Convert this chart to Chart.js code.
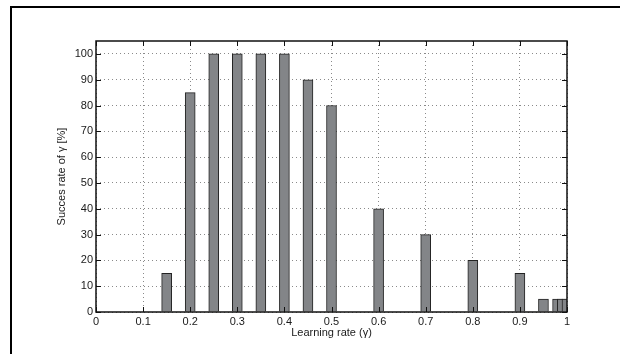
<!DOCTYPE html>
<html lang="en">
  <head>
    <meta charset="UTF-8" />
    <title>Succes rate vs learning rate</title>
    <script src="https://cdn.jsdelivr.net/npm/chart.js@4.4.1/dist/chart.umd.min.js"></script>
    <style>
      body { margin: 0; background: #fff; }
      .wrap { position: relative; width: 620px; height: 354px; overflow: hidden; }
      .frame {
        position: absolute; left: 10px; top: 6px; width: 700px; height: 400px;
        border-left: 2px solid #000; border-top: 2px solid #000; pointer-events: none;
      }
      canvas { position: absolute; left: 0; top: 0; }
    </style>
  </head>
  <body>
    <div class="wrap">
      <canvas id="rateChart" width="620" height="354"></canvas>
      <div class="frame"></div>
    </div>
    <script>
      // learning rate values (x) and success rate in percent (y)
      const learningRates = [0.15, 0.2, 0.25, 0.3, 0.35, 0.4, 0.45, 0.5, 0.6, 0.7, 0.8, 0.9, 0.95, 0.98, 0.99, 1.0];
      const successRates = [15, 85, 100, 100, 100, 100, 90, 80, 40, 30, 20, 15, 5, 5, 5, 5];

      const xTicks = [0, 0.1, 0.2, 0.3, 0.4, 0.5, 0.6, 0.7, 0.8, 0.9, 1];
      const xTickLabels = ["0", "0.1", "0.2", "0.3", "0.4", "0.5", "0.6", "0.7", "0.8", "0.9", "1"];
      const yTicks = [0, 10, 20, 30, 40, 50, 60, 70, 80, 90, 100];

      const font = { family: "'Liberation Sans', Arial, sans-serif", size: 11 };

      // box round the plot area plus inward tick marks on all four sides
      const boxPlugin = {
        id: "box",
        afterDatasetsDraw(chart) {
          const { ctx, chartArea: a, scales: { x, y } } = chart;
          ctx.save();
          ctx.strokeStyle = "#111";
          ctx.lineWidth = 1.5;
          ctx.strokeRect(a.left, a.top, a.right - a.left, a.bottom - a.top);
          ctx.lineWidth = 1;
          ctx.beginPath();
          x.ticks.forEach(t => {
            const px = Math.round(x.getPixelForValue(t.value)) + 0.5;
            ctx.moveTo(px, a.bottom); ctx.lineTo(px, a.bottom - 5);
            ctx.moveTo(px, a.top); ctx.lineTo(px, a.top + 5);
          });
          y.ticks.forEach(t => {
            const py = Math.round(y.getPixelForValue(t.value)) + 0.5;
            ctx.moveTo(a.left, py); ctx.lineTo(a.left + 5, py);
            ctx.moveTo(a.right, py); ctx.lineTo(a.right - 5, py);
          });
          ctx.stroke();
          ctx.restore();
        }
      };

      new Chart(document.getElementById("rateChart").getContext("2d"), {
        type: "bar",
        data: {
          datasets: [{
            data: learningRates.map((r, i) => ({ x: r, y: successRates[i] })),
            backgroundColor: "#838588",
            borderColor: "#222",
            borderWidth: 1,
            borderSkipped: "start",
            barThickness: 10
          }]
        },
        options: {
          responsive: false,
          devicePixelRatio: 1,
          animation: false,
          layout: { padding: { left: 51, right: 53, top: 41, bottom: 0 } },
          plugins: { legend: { display: false }, tooltip: { enabled: false } },
          scales: {
            x: {
              type: "linear",
              min: 0,
              max: 1,
              offset: false,
              afterBuildTicks: s => { s.ticks = xTicks.map(v => ({ value: v })); },
              afterFit: s => { s.height = 42; },
              ticks: {
                font: font,
                color: "#1a1a1a",
                padding: 3,
                maxRotation: 0,
                callback: (v, i) => xTickLabels[i]
              },
              grid: { offset: false, color: "#8a8a8a", lineWidth: 1, drawTicks: false },
              border: { display: false, dash: [1, 3] },
              title: {
                display: true,
                text: "Learning rate (γ)",
                font: font,
                color: "#1a1a1a",
                padding: { top: 0, bottom: 14 }
              }
            },
            y: {
              min: 0,
              max: 105,
              afterBuildTicks: s => { s.ticks = yTicks.map(v => ({ value: v })); },
              afterFit: s => { s.width = 45; },
              ticks: { font: font, color: "#1a1a1a", padding: 3 },
              grid: { color: "#8a8a8a", lineWidth: 1, drawTicks: false },
              border: { display: false, dash: [1, 3] },
              title: {
                display: true,
                text: "Succes rate of γ [%]",
                font: font,
                color: "#1a1a1a",
                padding: { top: 4, bottom: 0 }
              }
            }
          }
        },
        plugins: [boxPlugin]
      });
    </script>
  </body>
</html>
